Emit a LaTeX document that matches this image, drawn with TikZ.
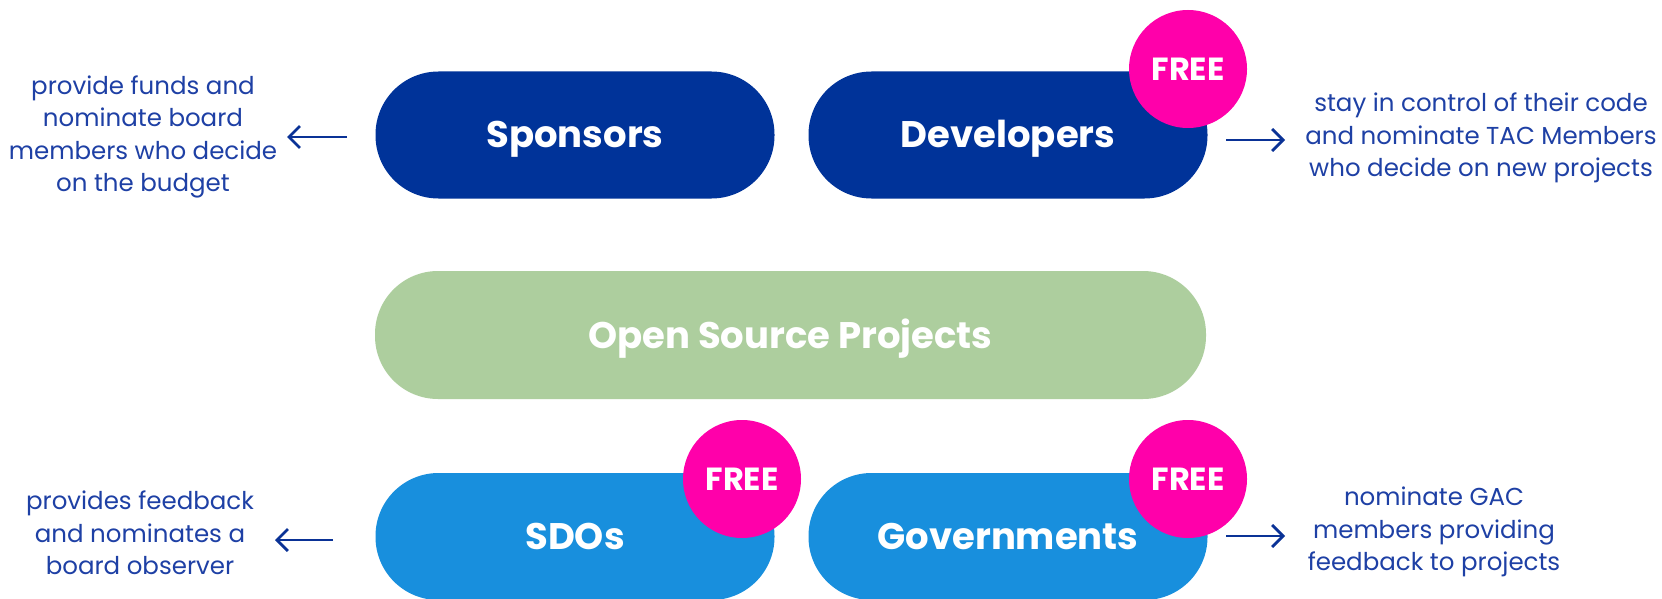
\documentclass[tikz,border=0pt]{standalone}
\usepackage{fontspec}
\setmainfont{Poppins}
\usetikzlibrary{arrows.meta}
\definecolor{darkblue}{RGB}{0,51,153}
\definecolor{lightblue}{RGB}{24,143,221}
\definecolor{greenpill}{RGB}{173,206,158}
\definecolor{pinkfree}{RGB}{255,0,170}
\definecolor{txtblue}{RGB}{30,64,165}
\definecolor{arrblue}{RGB}{10,50,150}
\begin{document}
\begin{tikzpicture}[x=1pt,y=-1pt,
  pill/.style={rounded corners=63pt, minimum height=127pt, minimum width=399pt, inner sep=0pt,
    text=white, font=\fontsize{37}{40}\selectfont\bfseries, text height=26pt, text depth=0pt},
  freebadge/.style={circle, fill=pinkfree, minimum size=118pt, inner sep=0pt, text=white,
    font=\fontsize{32}{34}\selectfont\bfseries, text height=22.5pt, text depth=0pt},
  desc/.style={align=center, text=txtblue, inner sep=0pt, font=\fontsize{24.5}{32.5}\selectfont},
  arr/.style={draw=arrblue, line width=2.8pt, -{Straight Barb[length=11pt,width=22pt,line width=2.8pt]}}]
\useasboundingbox (0,0) rectangle (1662,599);
\fill[white] (0,0) rectangle (1662,599);
% pills
\node[pill, fill=darkblue] (spon) at (575,135) {Sponsors};
\node[pill, fill=darkblue] (dev) at (1008,135) {Developers};
\node[pill, fill=greenpill, minimum width=831pt, minimum height=128pt] (osp) at (790.5,335) {Open Source Projects};
\node[pill, fill=lightblue] (sdo) at (575,536.5) {SDOs};
\node[pill, fill=lightblue] (gov) at (1008,536.5) {Governments};
% badges
\node[freebadge] (f1) at (1188,69) {FREE};
\node[freebadge] (f2) at (742,479) {FREE};
\node[freebadge] (f3) at (1188,479) {FREE};
% descriptions
\node[desc] (tl) at (143,137) {provide funds and\\nominate board\\members who decide\\on the budget};
\node[desc] (tr) at (1481,138) {stay in control of their code\\and nominate TAC Members\\who decide on new projects};
\node[desc] (bl) at (140,533) {provides feedback\\and nominates a\\board observer};
\node[desc] (br) at (1434,532) {nominate GAC\\members providing\\feedback to projects};
% arrow end points
\coordinate (a1s) at (347,137); \coordinate (a1e) at (287,137);
\coordinate (a2s) at (1226,140); \coordinate (a2e) at (1285,140);
\coordinate (a3s) at (333,540); \coordinate (a3e) at (275,540);
\coordinate (a4s) at (1226,536); \coordinate (a4e) at (1285,536);
\draw[arr] (a1s) -- (a1e);
\draw[arr] (a2s) -- (a2e);
\draw[arr] (a3s) -- (a3e);
\draw[arr] (a4s) -- (a4e);
\end{tikzpicture}
\end{document}
